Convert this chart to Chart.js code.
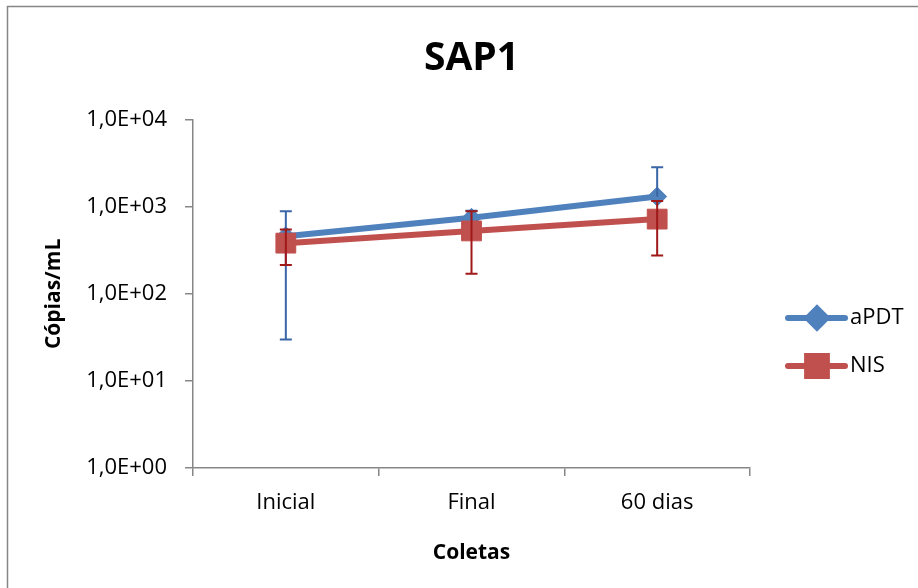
<!DOCTYPE html>
<html>
<head>
<meta charset="utf-8">
<title>SAP1</title>
<script src="https://cdn.jsdelivr.net/npm/chart.js@4.4.1/dist/chart.umd.min.js"></script>
<style>
  html, body { margin: 0; padding: 0; background: #ffffff; }
  canvas { display: block; }
</style>
</head>
<body>
<canvas id="sapChart" width="918" height="588"></canvas>
<script>
// Data
const categories = ['Inicial', 'Final', '60 dias'];
const apdtValues = [460, 748, 1313];
const apdtErrors = [430, 152, 1543];
const nisValues = [383, 529, 723];
const nisErrors = [168, 359, 447];
const yTicks = [1, 10, 100, 1000, 10000];
const yTickLabels = ['1,0E+00', '1,0E+01', '1,0E+02', '1,0E+03', '1,0E+04'];

const AXIS_GREY = '#868686';
const FONT = "'Open Sans', sans-serif";

// Thin grey frame round the whole chart (only left/top edges are in view)
const framePlugin = {
    id: 'frame',
    beforeDraw(chart) {
        const ctx = chart.ctx;
        ctx.save();
        ctx.fillStyle = '#ffffff';
        ctx.fillRect(0, 0, chart.width, chart.height);
        ctx.strokeStyle = AXIS_GREY;
        ctx.lineWidth = 1.5;
        ctx.strokeRect(7.5, 6.5, chart.width + 20, chart.height + 20);
        ctx.restore();
    }
};

// Vertical error bars with caps, drawn after each dataset
const errorBarPlugin = {
    id: 'errorBars',
    afterDatasetDraw(chart, args) {
        const ds = chart.data.datasets[args.index];
        if (!ds.errors) return;
        const ctx = chart.ctx;
        const yScale = chart.scales.y;
        const cap = 6;
        ctx.save();
        ctx.strokeStyle = ds.errorColor;
        ctx.lineWidth = 2;
        args.meta.data.forEach((pt, i) => {
            const v = ds.data[i];
            const e = ds.errors[i];
            const x = pt.x;
            const yTop = yScale.getPixelForValue(v + e);
            ctx.beginPath();
            ctx.moveTo(x, pt.y);
            ctx.lineTo(x, yTop);
            ctx.moveTo(x - cap, yTop);
            ctx.lineTo(x + cap, yTop);
            if (v - e > 0) {
                const yBot = yScale.getPixelForValue(v - e);
                ctx.moveTo(x, pt.y);
                ctx.lineTo(x, yBot);
                ctx.moveTo(x - cap, yBot);
                ctx.lineTo(x + cap, yBot);
            }
            ctx.stroke();
        });
        ctx.restore();
    }
};

// Excel-style legend: line with marker, label to the right
const legendPlugin = {
    id: 'lineLegend',
    afterDraw(chart) {
        const ctx = chart.ctx;
        const rows = [318, 366];
        const x0 = 788, x1 = 845, xm = 817;
        ctx.save();
        chart.data.datasets.forEach((ds, i) => {
            const y = rows[i];
            ctx.strokeStyle = ds.borderColor;
            ctx.lineWidth = ds.borderWidth;
            ctx.lineCap = 'round';
            ctx.beginPath();
            ctx.moveTo(x0, y);
            ctx.lineTo(x1, y);
            ctx.stroke();
            Chart.helpers.drawPoint(ctx, {
                pointStyle: ds.pointStyle,
                radius: ds.pointRadius,
                borderWidth: 1
            }, xm, y);
            ctx.fillStyle = ds.pointBackgroundColor;
            ctx.strokeStyle = ds.pointBorderColor;
            ctx.fill();
            ctx.fillStyle = '#000000';
            ctx.font = "22px " + FONT;
            ctx.textBaseline = 'middle';
            ctx.textAlign = 'left';
            ctx.fillText(ds.label, 850, y);
        });
        ctx.restore();
    }
};

new Chart(document.getElementById('sapChart'), {
    type: 'line',
    data: {
        labels: categories,
        datasets: [
            {
                label: 'aPDT',
                data: apdtValues,
                errors: apdtErrors,
                errorColor: '#3A66A6',
                borderColor: '#4F81BD',
                borderWidth: 6,
                pointStyle: 'rectRot',
                pointRadius: 9.5,
                pointBackgroundColor: '#4F81BD',
                pointBorderColor: '#4F81BD',
                pointBorderWidth: 1,
                tension: 0,
                order: 2
            },
            {
                label: 'NIS',
                data: nisValues,
                errors: nisErrors,
                errorColor: '#A01818',
                borderColor: '#C0504D',
                borderWidth: 6,
                pointStyle: 'rect',
                pointRadius: 14,
                pointBackgroundColor: '#C0504D',
                pointBorderColor: '#C0504D',
                pointBorderWidth: 1,
                tension: 0,
                order: 1
            }
        ]
    },
    options: {
        responsive: false,
        animation: false,
        devicePixelRatio: 1,
        layout: { padding: { left: 0, right: 168, top: 0, bottom: 0 } },
        plugins: {
            legend: { display: false },
            tooltip: { enabled: false },
            title: {
                display: true,
                text: 'SAP1',
                fullSize: false,
                color: '#000000',
                font: { family: FONT, size: 39, weight: 'bold' },
                padding: { top: 35, bottom: 38 }
            }
        },
        scales: {
            x: {
                type: 'category',
                offset: true,
                afterFit(scale) { scale.height = 120; },
                grid: {
                    offset: true,
                    drawOnChartArea: false,
                    drawTicks: true,
                    tickLength: 8,
                    color: AXIS_GREY,
                    lineWidth: 1.5
                },
                border: { display: true, color: AXIS_GREY, width: 1.5 },
                ticks: {
                    color: '#000000',
                    padding: 14,
                    font: { family: FONT, size: 22 }
                },
                title: {
                    display: true,
                    text: 'Coletas',
                    color: '#000000',
                    font: { family: FONT, size: 21, weight: 'bold' },
                    padding: { top: 0, bottom: 22 }
                }
            },
            y: {
                type: 'logarithmic',
                min: 1,
                max: 10000,
                afterFit(scale) { scale.width = 193; },
                afterBuildTicks(scale) {
                    scale.ticks = yTicks.map(v => ({ value: v }));
                },
                grid: {
                    drawOnChartArea: false,
                    drawTicks: true,
                    tickLength: 8,
                    color: AXIS_GREY,
                    lineWidth: 1.5
                },
                border: { display: true, color: AXIS_GREY, width: 1.5 },
                ticks: {
                    color: '#000000',
                    padding: 18,
                    font: { family: FONT, size: 22 },
                    callback: (value) => yTickLabels[yTicks.indexOf(value)]
                },
                title: {
                    display: true,
                    text: 'Cópias/mL',
                    color: '#000000',
                    font: { family: FONT, size: 21, weight: 'bold' },
                    padding: { top: 41, bottom: 0 }
                }
            }
        }
    },
    plugins: [framePlugin, errorBarPlugin, legendPlugin]
});
</script>
</body>
</html>
